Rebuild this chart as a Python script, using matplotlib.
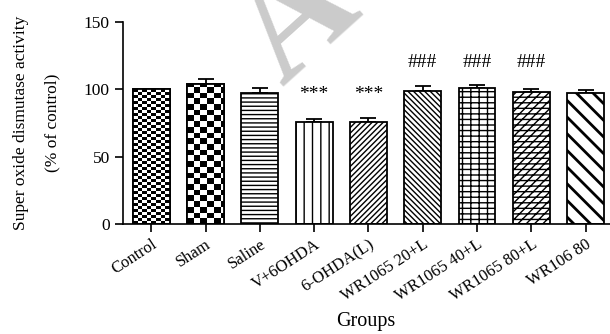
import numpy as np
import matplotlib
matplotlib.use("Agg")
import matplotlib.pyplot as plt

plt.rcParams["font.family"] = ["Liberation Serif", "DejaVu Serif"]
plt.rcParams["hatch.linewidth"] = 1.0

groups = ["Control", "Sham", "Saline", "V+6OHDA", "6-OHDA(L)",
          "WR1065 20+L", "WR1065 40+L", "WR1065 80+L", "WR106 80"]
sod_activity = [100.0, 103.7, 97.5, 75.5, 75.5, 98.7, 100.7, 97.8, 97.0]
sem = [0.0, 3.7, 3.7, 2.5, 2.9, 4.0, 2.7, 2.4, 2.9]
signif = ["", "", "", "***", "***", "###", "###", "###", ""]
signif_y = [0, 0, 0, 90, 90, 114, 114, 114, 0]

hatches = [None, None, "----", "||", "//////", "\\\\\\\\\\\\", "||---", "////---", "\\\\"]
# bar index -> (cells across, cell height in px)
checker = {0: (8, 3.0), 1: (5.5, 5.7)}

fig = plt.figure(figsize=(6.1, 3.34), dpi=100)
ax = fig.add_axes([0.2016, 0.329, 0.7984, 0.605])
ax.patch.set_alpha(0)

# faint watermark letter behind the chart (runs off the top, as in the source)
fig.text(0.462, 0.74, "A", rotation=42, rotation_mode="anchor", ha="left",
         va="baseline", fontsize=110, fontweight="bold", color="#cbcbcb", zorder=-5)

x = np.arange(len(groups))
bars = ax.bar(x, sod_activity, width=0.68, color="white", edgecolor="black",
              linewidth=1.3, zorder=2)
for b, h in zip(bars, hatches):
    if h:
        b.set_hatch(h)
if hasattr(bars[8], "set_hatch_linewidth"):
    bars[8].set_hatch_linewidth(2.0)

ax.set_xlim(-0.52, 8.45)
ax.set_ylim(0, 150)
y_per_px = 150 / (0.605 * 334)

# checkerboard fills for the first two bars
for i, (n, cell_px) in checker.items():
    b = bars[i]
    x0, w, hgt = b.get_x(), b.get_width(), b.get_height()
    rows = int(np.ceil(hgt / (cell_px * y_per_px)))
    cols = int(np.ceil(n))
    board = (np.add.outer(np.arange(rows), np.arange(cols)) % 2).astype(float)
    im = ax.imshow(board, cmap="gray",
                   extent=(x0, x0 + w * cols / n, 0, rows * cell_px * y_per_px),
                   aspect="auto", interpolation="nearest", origin="upper", zorder=2.5)
    im.set_clip_path(b)
    ax.bar(x[i], sod_activity[i], width=0.68, fill=False, edgecolor="black",
           linewidth=1.3, zorder=3)

ax.errorbar(x, sod_activity, yerr=[np.zeros(len(sem)), sem], fmt="none",
            ecolor="black", elinewidth=1.3, capsize=6, capthick=1.3, zorder=1)

for xi, s, sy in zip(x, signif, signif_y):
    if s:
        ax.text(xi, sy, s, ha="center", va="bottom", fontsize=14)

ax.set_xlim(-0.52, 8.45)
ax.set_ylim(0, 150)
ax.set_yticks([0, 50, 100, 150])
ax.set_xticks(x)
ax.set_xticklabels(groups, rotation=33, ha="right", rotation_mode="anchor", fontsize=12)
ax.tick_params(axis="y", labelsize=12.5, width=1.2, length=6)
ax.tick_params(axis="x", width=1.2, length=6, pad=3)
ax.spines["top"].set_visible(False)
ax.spines["right"].set_visible(False)
ax.spines["left"].set_linewidth(1.2)
ax.spines["bottom"].set_linewidth(1.2)

ax.set_ylabel("Super oxide dismutase activity\n(% of control)", fontsize=12.5,
              linespacing=2.3, labelpad=17)
fig.text(0.6, 0.008, "Groups", ha="center", va="bottom", fontsize=14.5)

fig.savefig("out.png", dpi=100)
